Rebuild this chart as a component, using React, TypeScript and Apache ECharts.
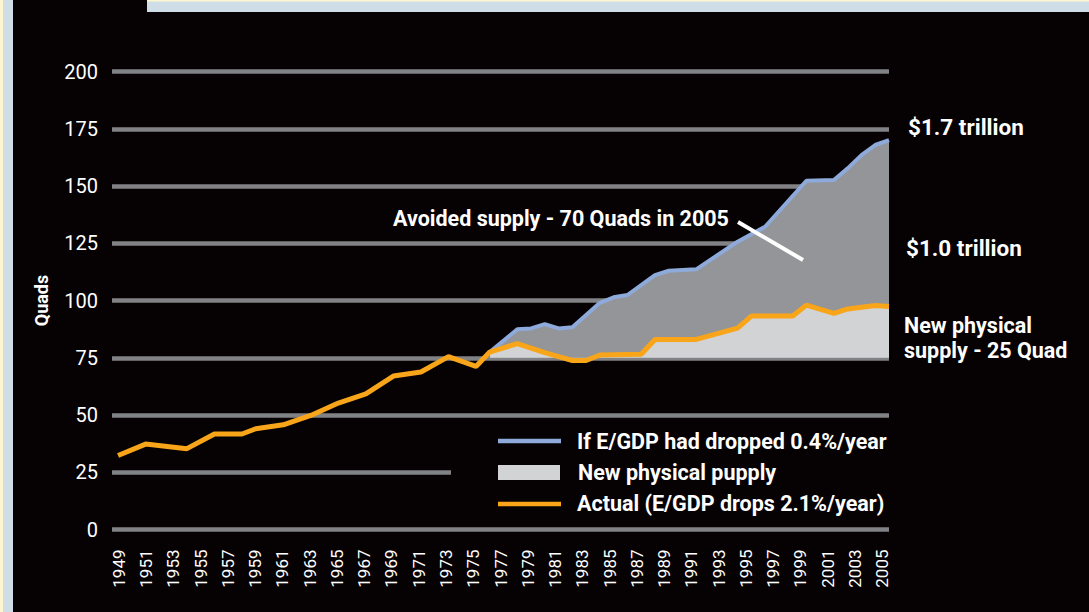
import React, { useEffect, useRef } from "react";
import * as echarts from "echarts";

const yearLabels: string[] = [];
for (let y = 1949; y <= 2005; y++) yearLabels.push(String(y));

const actualSeries: [number, number][] = [
  [1949, 32.3], [1951, 37.3], [1954, 35.3], [1956, 41.7], [1958, 41.7],
  [1959, 44.0], [1961, 45.7], [1963, 49.8], [1965, 55.2], [1967, 59.2],
  [1969, 67.0], [1971, 68.8], [1973, 75.5], [1975, 71.2], [1976, 77.5],
  [1978, 81.2], [1980, 77.2], [1981, 75.5], [1982, 73.8], [1983, 73.8],
  [1984, 76.2], [1987, 76.5], [1988, 83.0], [1991, 83.0], [1994, 87.9],
  [1995, 93.2], [1998, 93.2], [1999, 98.0], [2001, 94.4], [2002, 96.3],
  [2004, 97.8], [2005, 97.4],
];

const ifDroppedSeries: [number, number][] = [
  [1976, 77.5], [1978, 87.4], [1979, 87.8], [1980, 89.7], [1981, 87.8],
  [1982, 88.3], [1984, 99.0], [1985, 101.4], [1986, 102.4], [1988, 111.1],
  [1989, 113.0], [1991, 113.6], [1994, 125.7], [1996, 132.2], [1999, 152.3],
  [2001, 152.6], [2002, 157.7], [2003, 163.5], [2004, 167.9], [2005, 170.0],
];

const newSupplySeries = actualSeries.filter((d) => d[0] >= 1976);
const baseLevel = 75;

const NAME_IF = "If E/GDP had dropped 0.4%/year";
const NAME_NEW = "New physical pupply";
const NAME_ACT = "Actual (E/GDP drops 2.1%/year)";

const BLUE = "#8eaadb";
const ORANGE = "#f9a51a";
const DARK = "#939598";
const LIGHT = "#d1d3d4";
const GRID = "#808285";
const FONT = "Roboto, 'DejaVu Sans', sans-serif";

export default function App() {
  const ref = useRef<HTMLDivElement>(null);
  useEffect(() => {
    document.body.style.margin = "0";
    const chart = echarts.init(ref.current!, null, { renderer: "svg" });
    const txt = (text: string, x: number, y: number, size = 21.5) => ({
      type: "text",
      x,
      y,
      z: 10,
      style: {
        text,
        fill: "#ffffff",
        fontSize: size,
        fontWeight: "bold",
        fontFamily: FONT,
        textAlign: "left",
        textVerticalAlign: "middle",
      },
    });
    chart.setOption({
      animation: false,
      backgroundColor: "#060103",
      grid: { left: 112, right: 200, top: 71.5, bottom: 612 - 529.5 },
      xAxis: [
        {
          type: "value",
          show: false,
          min: 1948.56,
          max: 2005,
          splitLine: { show: false },
        },
        {
          type: "category",
          position: "bottom",
          data: yearLabels,
          boundaryGap: true,
          axisLine: { show: false },
          axisTick: { show: false },
          splitLine: { show: false },
          axisLabel: {
            interval: 1,
            rotate: 90,
            color: "#ffffff",
            fontSize: 17,
            fontFamily: FONT,
            margin: 20,
          },
        },
      ],
      yAxis: {
        type: "value",
        min: 0,
        max: 200,
        interval: 25,
        name: "Quads",
        nameLocation: "middle",
        nameGap: 62,
        nameRotate: 90,
        nameTextStyle: {
          color: "#ffffff",
          fontSize: 18,
          fontWeight: "bold",
          fontFamily: FONT,
        },
        axisLine: { show: false },
        axisTick: { show: false },
        axisLabel: { color: "#ffffff", fontSize: 20, fontFamily: FONT, margin: 14 },
        splitLine: { lineStyle: { color: GRID, width: 4.5 } },
      },
      series: [
        {
          name: NAME_IF,
          type: "line",
          xAxisIndex: 0,
          data: ifDroppedSeries,
          symbol: "none",
          lineStyle: { color: BLUE, width: 4 },
          areaStyle: { color: DARK, opacity: 1, origin: baseLevel },
          z: 2,
        },
        {
          name: NAME_NEW,
          type: "line",
          xAxisIndex: 0,
          data: newSupplySeries,
          symbol: "none",
          lineStyle: { width: 0, color: LIGHT },
          areaStyle: { color: LIGHT, opacity: 1, origin: baseLevel },
          z: 3,
        },
        {
          name: NAME_ACT,
          type: "line",
          xAxisIndex: 0,
          data: actualSeries,
          symbol: "none",
          lineStyle: { color: ORANGE, width: 5 },
          z: 4,
        },
      ],
      graphic: [
        // frame
        { type: "rect", shape: { x: 0, y: 0, width: 13, height: 612 }, style: { fill: "#cfdee6" }, z: 20 },
        { type: "rect", shape: { x: 0, y: 0, width: 3, height: 612 }, style: { fill: "#fbf6cf" }, z: 21 },
        { type: "rect", shape: { x: 147, y: 0, width: 942, height: 12 }, style: { fill: "#cfdee6" }, z: 20 },
        { type: "rect", shape: { x: 147, y: 0, width: 942, height: 1.5 }, style: { fill: "#fbf6cf" }, z: 21 },
        // annotation
        txt("Avoided supply - 70 Quads in 2005", 393, 218),
        { type: "line", shape: { x1: 738, y1: 222, x2: 803, y2: 260 }, style: { stroke: "#ffffff", lineWidth: 4 }, z: 10 },
        txt("$1.7 trillion", 908, 127, 22.5),
        txt("$1.0 trillion", 906, 248, 22.5),
        txt("New physical", 904, 325),
        txt("supply - 25 Quad", 904, 350),
        // legend
        { type: "rect", shape: { x: 451, y: 421, width: 440, height: 102 }, style: { fill: "#060103" }, z: 5 },
        { type: "line", shape: { x1: 498, y1: 441, x2: 561, y2: 441 }, style: { stroke: BLUE, lineWidth: 4.5 }, z: 10 },
        txt(NAME_IF, 577, 441),
        { type: "rect", shape: { x: 498, y: 465, width: 62, height: 15 }, style: { fill: LIGHT }, z: 10 },
        txt(NAME_NEW, 578, 472),
        { type: "line", shape: { x1: 498, y1: 504, x2: 561, y2: 504 }, style: { stroke: ORANGE, lineWidth: 4.5 }, z: 10 },
        txt(NAME_ACT, 577, 503),
      ],
    });
    return () => chart.dispose();
  }, []);
  return (
    <div
      ref={ref}
      style={{ position: "absolute", left: 0, top: 0, width: 1089, height: 612 }}
    />
  );
}
